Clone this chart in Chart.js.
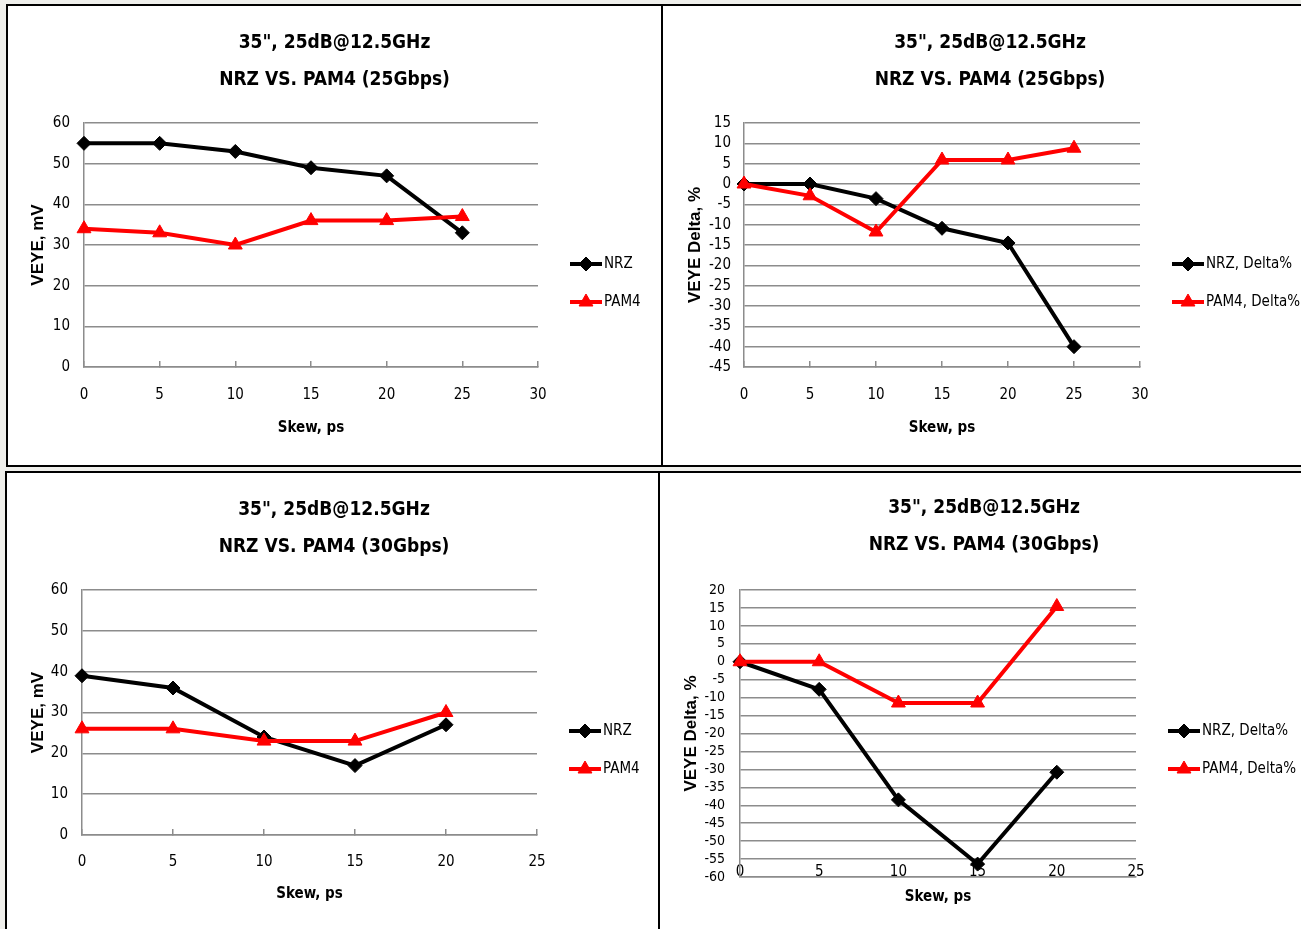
<!DOCTYPE html>
<html>
<head>
<meta charset="utf-8">
<script src="https://cdn.jsdelivr.net/npm/chart.js@4.4.1/dist/chart.umd.min.js"></script>
<style>
  body { margin: 0; background: #efefeb; width: 1301px; height: 929px; overflow: hidden; position: relative; }
  .panel { position: absolute; box-sizing: border-box; background: #fff; border: 2px solid #000; }
  canvas { display: block; }
</style>
</head>
<body>
<div class="panel" style="left:6px;top:4px;width:657px;height:463px"><canvas id="c1" width="653" height="459"></canvas></div>
<div class="panel" style="left:663px;top:4px;width:640px;height:463px;border-left:0"><canvas id="c2" width="638" height="459"></canvas></div>
<div class="panel" style="left:5px;top:471px;width:655px;height:460px"><canvas id="c3" width="651" height="456"></canvas></div>
<div class="panel" style="left:660px;top:471px;width:643px;height:460px;border-left:0"><canvas id="c4" width="641" height="456"></canvas></div>

<script>
var NARROW = '"Liberation Sans Narrow", "Arial Narrow", "DejaVu Sans Condensed", sans-serif';
var ARIAL = '"Liberation Sans", Arial, sans-serif';
var GRID = '#8c8c8c';

// skew values (ps)
var skew25 = [0, 5, 10, 15, 20, 25];
var skew30 = [0, 5, 10, 15, 20];

// 25Gbps
var nrz25 = [55, 55, 53, 49, 47, 33];
var pam425 = [34, 33, 30, 36, 36, 37];
var nrzDelta25 = [0, 0, -3.6, -10.9, -14.5, -40];
var pam4Delta25 = [0, -2.9, -11.8, 5.9, 5.9, 8.8];

// 30Gbps
var nrz30 = [39, 36, 24, 17, 27];
var pam430 = [26, 26, 23, 23, 30];
var nrzDelta30 = [0, -7.7, -38.5, -56.4, -30.8];
var pam4Delta30 = [0, 0, -11.5, -11.5, 15.4];

// tick labels
var xTicks30 = [0, 5, 10, 15, 20, 25, 30];
var xTicks25 = [0, 5, 10, 15, 20, 25];
var mvTicks = [0, 10, 20, 30, 40, 50, 60];
var deltaTicks25 = [-45, -40, -35, -30, -25, -20, -15, -10, -5, 0, 5, 10, 15];
var deltaTicks30 = [-60, -55, -50, -45, -40, -35, -30, -25, -20, -15, -10, -5, 0, 5, 10, 15, 20];

var title25 = ['35", 25dB@12.5GHz', 'NRZ VS. PAM4 (25Gbps)'];
var title30 = ['35", 25dB@12.5GHz', 'NRZ VS. PAM4 (30Gbps)'];

function pts(xs, ys) {
    return xs.map(function (x, i) { return { x: x, y: ys[i] }; });
}

// excel style legend: short line with the marker in the middle
var sideLegend = {
    id: 'sideLegend',
    afterDraw: function (chart) {
        var ca = chart.chartArea;
        var ctx = chart.ctx;
        chart.data.datasets.forEach(function (ds, i) {
            var x0 = ca.right + 32;
            var y = ca.top + 141 + i * 38;
            ctx.save();
            ctx.strokeStyle = ds.borderColor;
            ctx.fillStyle = ds.backgroundColor;
            ctx.lineWidth = 4;
            ctx.beginPath();
            ctx.moveTo(x0, y);
            ctx.lineTo(x0 + 32, y);
            ctx.stroke();
            ctx.lineWidth = 1;
            Chart.helpers.drawPoint(ctx, { pointStyle: ds.pointStyle, radius: ds.pointRadius, borderWidth: 1, rotation: 0 }, x0 + 16, y);
            ctx.fillStyle = '#000';
            ctx.font = '15px ' + NARROW;
            ctx.textBaseline = 'middle';
            ctx.textAlign = 'left';
            ctx.fillText(ds.label, x0 + 34, y);
            ctx.restore();
        });
    }
};

function makeChart(id, c) {
    return new Chart(document.getElementById(id), {
        type: 'line',
        data: {
            datasets: [{
                label: c.names[0],
                data: pts(c.xs, c.nrz),
                borderColor: '#000',
                backgroundColor: '#000',
                borderWidth: 4,
                pointStyle: 'rectRot',
                pointRadius: 7,
                pointBorderWidth: 1,
                tension: 0,
                clip: false,
                order: 1
            }, {
                label: c.names[1],
                data: pts(c.xs, c.pam4),
                borderColor: '#ff0000',
                backgroundColor: '#ff0000',
                borderWidth: 4,
                pointStyle: 'triangle',
                pointRadius: 8,
                pointBorderWidth: 1,
                tension: 0,
                clip: false,
                order: 0
            }]
        },
        options: {
            responsive: false,
            animation: false,
            layout: { padding: { left: c.padLeft, right: 0, top: 0, bottom: 0 } },
            plugins: {
                legend: { display: false },
                tooltip: { enabled: false },
                title: {
                    display: true,
                    text: c.title,
                    color: '#000',
                    font: { family: NARROW, size: 19, weight: 'bold', lineHeight: '37px' },
                    padding: { top: c.titleTop, bottom: c.titleBottom }
                }
            },
            scales: {
                x: {
                    type: 'linear',
                    position: 'bottom',
                    min: c.xTicks[0],
                    max: c.xTicks[c.xTicks.length - 1],
                    afterBuildTicks: function (axis) {
                        axis.ticks = c.xTicks.map(function (v) { return { value: v }; });
                    },
                    afterFit: function (axis) { axis.height = c.xHeight; },
                    grid: { drawOnChartArea: false, drawTicks: c.xTickMarks, tickLength: -6, color: GRID, lineWidth: 1.5 },
                    border: { color: GRID, width: 1.5 },
                    ticks: { color: '#000', font: { family: NARROW, size: 15 }, padding: c.xTickPad, mirror: c.xMirror, autoSkip: false, maxRotation: 0 },
                    title: {
                        display: true,
                        text: 'Skew, ps',
                        color: '#000',
                        font: { family: NARROW, size: 15, weight: 'bold' },
                        padding: { top: 0, bottom: c.xTitlePad }
                    }
                },
                y: {
                    min: c.yTicks[0],
                    max: c.yTicks[c.yTicks.length - 1],
                    afterBuildTicks: function (axis) {
                        axis.ticks = c.yTicks.map(function (v) { return { value: v }; });
                    },
                    afterFit: function (axis) { axis.width = c.yWidth; },
                    grid: { color: GRID, lineWidth: 1.5, drawTicks: false },
                    border: { color: GRID, width: 1.5 },
                    ticks: { color: '#000', font: { family: NARROW, size: c.yTickSize }, padding: c.yTickPad, autoSkip: false },
                    title: {
                        display: true,
                        text: c.yTitle,
                        color: '#000',
                        font: { family: ARIAL, size: 17, weight: 'bold' },
                        padding: { top: c.yTitlePad, bottom: 0 }
                    }
                },
                // empty axis that keeps room for the legend on the right
                legendSpace: {
                    axis: 'y',
                    position: 'right',
                    display: true,
                    grid: { display: false },
                    border: { display: false },
                    ticks: { display: false },
                    afterFit: function (axis) { axis.width = c.rightSpace; }
                }
            }
        },
        plugins: [sideLegend]
    });
}

var chart1 = makeChart('c1', {
    title: title25, names: ['NRZ', 'PAM4'], xs: skew25, nrz: nrz25, pam4: pam425,
    xTicks: xTicks30, yTicks: mvTicks, yTitle: 'VEYE, mV',
    padLeft: 0, yWidth: 76, rightSpace: 123, xHeight: 98,
    titleTop: 18.5, titleBottom: 24.5, xTickMarks: true, xMirror: false, xTickPad: 25, xTitlePad: 28,
    yTickPad: 14, yTitlePad: 19.8, yTickSize: 15
});

var chart2 = makeChart('c2', {
    title: title25, names: ['NRZ, Delta%', 'PAM4, Delta%'], xs: skew25, nrz: nrzDelta25, pam4: pam4Delta25,
    xTicks: xTicks30, yTicks: deltaTicks25, yTitle: 'VEYE Delta, %',
    padLeft: 16, yWidth: 65, rightSpace: 161, xHeight: 98,
    titleTop: 18.5, titleBottom: 24.5, xTickMarks: true, xMirror: false, xTickPad: 25, xTitlePad: 28,
    yTickPad: 13, yTitlePad: 5.8, yTickSize: 15
});

var chart3 = makeChart('c3', {
    title: title30, names: ['NRZ', 'PAM4'], xs: skew30, nrz: nrz30, pam4: pam430,
    xTicks: xTicks25, yTicks: mvTicks, yTitle: 'VEYE, mV',
    padLeft: 3, yWidth: 72, rightSpace: 121, xHeight: 94,
    titleTop: 18.5, titleBottom: 24.5, xTickMarks: true, xMirror: false, xTickPad: 24, xTitlePad: 26,
    yTickPad: 14, yTitlePad: 17.8, yTickSize: 15
});

// in this one the skew labels sit just above the bottom line
var chart4 = makeChart('c4', {
    title: title30, names: ['NRZ, Delta%', 'PAM4, Delta%'], xs: skew30, nrz: nrzDelta30, pam4: pam4Delta30,
    xTicks: xTicks25, yTicks: deltaTicks30, yTitle: 'VEYE Delta, %',
    padLeft: 7, yWidth: 73, rightSpace: 165, xHeight: 52,
    titleTop: 16.5, titleBottom: 26.5, xTickMarks: false, xMirror: true, xTickPad: -4, xTitlePad: 23,
    yTickPad: 15, yTitlePad: 13.8, yTickSize: 14
});
</script>
</body>
</html>
